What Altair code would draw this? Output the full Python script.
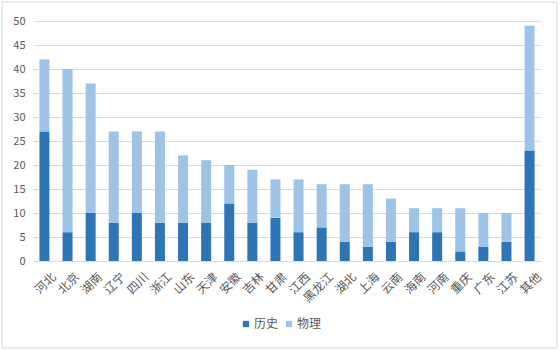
import altair as alt
import pandas as pd

provinces = ["河北", "北京", "湖南", "辽宁", "四川", "浙江", "山东", "天津", "安徽", "吉林", "甘肃",
             "江西", "黑龙江", "湖北", "上海", "云南", "海南", "河南", "重庆", "广东", "江苏", "其他"]
history = [27, 6, 10, 8, 10, 8, 8, 8, 12, 8, 9, 6, 7, 4, 3, 4, 6, 6, 2, 3, 4, 23]
physics = [15, 34, 27, 19, 17, 19, 14, 13, 8, 11, 8, 11, 9, 12, 13, 9, 5, 5, 9, 7, 6, 26]
series = ["历史", "物理"]
colors = ["#2E75B6", "#9DC3E6"]

rows = []
for p, h, ph in zip(provinces, history, physics):
    rows.append({"省份": p, "类别": series[0], "人数": h, "序": 0})
    rows.append({"省份": p, "类别": series[1], "人数": ph, "序": 1})
df = pd.DataFrame(rows)

FONT = "Noto Sans CJK SC"

bars = alt.Chart(df).mark_bar(size=10).encode(
    x=alt.X("省份:N", sort=provinces, title=None,
            scale=alt.Scale(paddingInner=0.57, paddingOuter=0.28),
            axis=alt.Axis(labelAngle=-45, labelAlign="right", labelBaseline="top",
                          ticks=False, domainColor="#d9d9d9", labelColor="#595959",
                          labelFontSize=12, labelFont=FONT, labelPadding=10, labelOffset=6)),
    y=alt.Y("人数:Q", title=None, stack="zero",
            scale=alt.Scale(domain=[0, 50], nice=False),
            axis=alt.Axis(values=list(range(0, 51, 5)), domain=False, ticks=False,
                          gridColor="#d9d9d9", labelColor="#595959", labelFontSize=11,
                          labelFont=FONT, labelPadding=8)),
    color=alt.Color("类别:N", scale=alt.Scale(domain=series, range=colors), title=None,
                    legend=alt.Legend(orient="none", legendX=207, legendY=297, direction="horizontal",
                                      symbolType="square", symbolSize=40, symbolStrokeWidth=0,
                                      labelFontSize=12, labelFont=FONT, labelColor="#595959",
                                      columnPadding=4, labelOffset=2)),
    order=alt.Order("序:Q"),
)

frame = alt.Chart(pd.DataFrame({"a": [0]})).mark_rect(
    fill=None, stroke="#d9d9d9", strokeWidth=1
).encode(x=alt.value(-31), x2=alt.value(524), y=alt.value(-19), y2=alt.value(327))

chart = alt.layer(frame, bars).properties(
    width=508, height=240,
    autosize=alt.AutoSizeParams(type="none"),
    padding={"left": 33, "top": 21, "right": 19, "bottom": 90},
    background="white",
).configure_view(stroke=None)

chart.save("out.html", embed_options={"renderer": "svg", "actions": False})
